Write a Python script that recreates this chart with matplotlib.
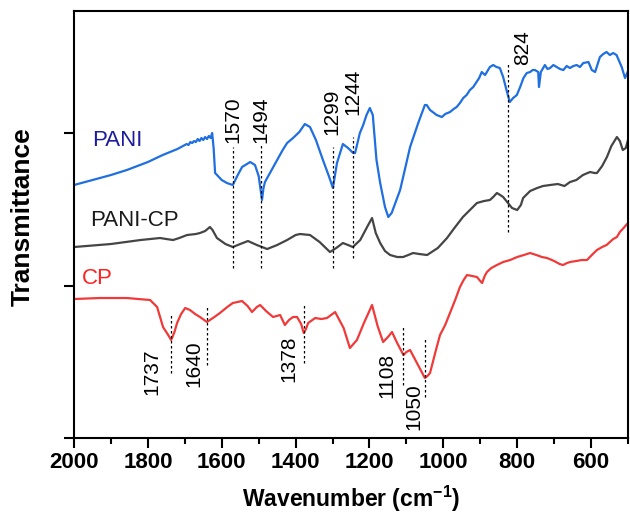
import matplotlib
matplotlib.use('Agg')
import matplotlib.pyplot as plt

plt.rcParams['font.family'] = ['Liberation Sans', 'DejaVu Sans']
plt.rcParams['mathtext.fontset'] = 'custom'
plt.rcParams['mathtext.rm'] = 'Liberation Sans'
plt.rcParams['mathtext.bf'] = 'Liberation Sans:bold'

# FTIR spectra, transmittance in arbitrary units (stacked / offset)
pani_wn = [2000, 1950, 1900, 1857, 1800, 1760, 1740, 1720, 1710, 1705, 1700, 1695,
           1690, 1685, 1680, 1675, 1670, 1665, 1660, 1655, 1650, 1645, 1640, 1635,
           1630, 1626, 1622, 1618, 1600, 1586, 1570, 1558, 1545, 1523, 1510, 1500,
           1496, 1491, 1487, 1483, 1465, 1450, 1435, 1423, 1407, 1390, 1375, 1361,
           1345, 1326, 1310, 1299, 1288, 1272, 1258, 1244, 1239, 1226, 1217, 1208,
           1199, 1191, 1181, 1171, 1158, 1149, 1140, 1117, 1090, 1068, 1050, 1045,
           1036, 1018, 1004, 995, 982, 972, 964, 955, 946, 937, 928, 919, 910, 903,
           896, 887, 874, 865, 856, 847, 838, 829, 820, 811, 801, 792, 783, 774,
           765, 758, 752, 743, 741, 736, 725, 718, 711, 702, 693, 684, 675, 666,
           657, 648, 639, 630, 621, 607, 598, 589, 576, 567, 558, 549, 540, 531,
           517, 508, 501]
pani_t = [253, 258, 263, 268, 276, 283, 286, 289, 291, 292, 293, 294,
          293, 296, 295, 297, 296, 299, 297, 300, 298, 301, 299, 302,
          300, 305, 290, 265, 258, 255, 253, 262, 271, 276, 273, 262,
          251, 238, 250, 256, 268, 278, 288, 295, 300, 306, 314, 311,
          298, 278, 262, 250, 275, 294, 290, 285, 285, 305, 313, 323,
          330, 323, 278, 255, 231, 221, 225, 248, 291, 315, 333, 333,
          328, 323, 321, 324, 326, 329, 331, 335, 340, 343, 348, 351, 356, 360,
          366, 363, 371, 373, 371, 370, 361, 348, 336, 340, 343, 351, 360, 365,
          366, 368, 368, 366, 351, 366, 373, 369, 370, 373, 371, 369, 368, 372,
          370, 372, 373, 371, 375, 376, 368, 366, 381, 384, 386, 383, 385, 383,
          371, 360, 366]

pcp_wn = [2000, 1900, 1820, 1767, 1750, 1732, 1715, 1694, 1670, 1659, 1645, 1632,
          1625, 1613, 1590, 1570, 1550, 1529, 1505, 1477, 1450, 1423, 1400, 1388,
          1361, 1335, 1307, 1290, 1272, 1258, 1245, 1225, 1205, 1193, 1183, 1171,
          1158, 1144, 1125, 1109, 1095, 1082, 1065, 1044, 1015, 990, 970, 947,
          928, 909, 890, 874, 865, 855, 846, 838, 825, 814, 800, 790, 784, 765,
          746, 730, 711, 690, 672, 657, 640, 622, 603, 590, 584, 570, 557, 545,
          530, 522, 514, 506, 500]
pcp_t = [191, 194, 198, 200, 199, 198, 200, 203, 204, 205, 207, 211,
         208, 200, 194, 191, 194, 197, 193, 189, 193, 198, 203, 204,
         203, 196, 186, 190, 195, 193, 191, 198, 212, 220, 205, 195,
         187, 183, 181, 181, 183, 185, 184, 183, 190, 200, 210, 221,
         228, 235, 237, 238, 241, 245, 243, 241, 235, 230, 228, 233, 240, 247,
         250, 252, 253, 254, 252, 256, 258, 263, 266, 265, 265, 272, 281, 292,
         301, 297, 288, 290, 298]

cp_wn = [2000, 1930, 1857, 1794, 1775, 1759, 1745, 1737, 1728, 1721, 1710, 1699,
         1686, 1672, 1659, 1640, 1620, 1605, 1585, 1570, 1545, 1530, 1518, 1505,
         1496, 1480, 1461, 1442, 1429, 1418, 1407, 1396, 1385, 1378, 1372, 1366,
         1347, 1330, 1315, 1293, 1270, 1253, 1234, 1215, 1193, 1178, 1163, 1150,
         1139, 1125, 1108, 1100, 1090, 1070, 1050, 1043, 1036, 1020, 1009, 995,
         982, 968, 955, 945, 936, 922, 909, 900, 895, 888, 882, 870, 855, 838,
         819, 800, 782, 765, 748, 733, 719, 700, 685, 676, 665, 657, 640, 625,
         611, 598, 584, 570, 558, 549, 540, 530, 522, 512, 500]
cp_t = [139, 140, 140, 138, 131, 111, 103, 98, 106, 115, 124, 130,
        128, 124, 121, 116, 121, 125, 131, 135, 137, 132, 126, 131,
        133, 127, 121, 123, 113, 118, 121, 121, 114, 105, 109, 115,
        120, 119, 120, 126, 110, 90, 98, 115, 133, 112, 96, 101,
        106, 95, 83, 86, 88, 74, 60, 62, 65, 88, 103, 113,
        125, 138, 151, 158, 163, 162, 161, 157, 155, 162, 166, 170, 173, 176,
        178, 181, 183, 185, 183, 181, 180, 177, 174, 173, 175, 176, 177, 178,
        178, 183, 188, 191, 193, 196, 199, 201, 206, 210, 215]

# peak markers: wavenumber, dashed line range
top_peaks = [1570, 1494, 1299, 1244, 824]
top_lo = [170, 170, 170, 180, 206]
top_hi = [291, 295, 291, 301, 375]
top_lab_x = [1571, 1494, 1302, 1244, 784]
top_lab_y = [295, 295, 303, 323, 373]

cp_peaks = [1737, 1640, 1378, 1108, 1050]
cp_lo = [65, 73, 75, 53, 41]
cp_hi = [125, 133, 134, 113, 101]
cp_lab_x = [1789, 1675, 1418, 1153, 1079]
cp_lab_y = [90, 98, 103, 85, 55]

fig = plt.figure(figsize=(6.3, 5.15), dpi=100)
ax = fig.add_axes([0.1175, 0.1495, 0.8793, 0.8291])

ax.plot(pani_wn, pani_t, color='#1f6fe0', lw=1.6)
ax.plot(pcp_wn, pcp_t, color='#454545', lw=1.6)
ax.plot(cp_wn, cp_t, color='#f03a3a', lw=1.6)

for wn, lo, hi in zip(top_peaks + cp_peaks, top_lo + cp_lo, top_hi + cp_hi):
    ax.plot([wn, wn], [lo, hi], color='black', lw=0.9, ls=(0, (2, 2)))

for lab, x, y in zip(top_peaks, top_lab_x, top_lab_y):
    ax.text(x, y, str(lab), rotation=90, ha='center', va='bottom', fontsize=15)
for lab, x, y in zip(cp_peaks, cp_lab_x, cp_lab_y):
    ax.text(x, y, str(lab), rotation=90, ha='center', va='top', fontsize=15)

ax.text(1951, 298, 'PANI', color='#1c1c9c', fontsize=16, va='center')
ax.text(1957, 218, 'PANI-CP', color='#1a1a1a', fontsize=16, va='center')
ax.text(1978, 160, 'CP', color='#ff2020', fontsize=16, va='center')

ax.set_xlim(2000, 500)
ax.set_ylim(0, 427)
ax.set_xticks([2000, 1800, 1600, 1400, 1200, 1000, 800, 600])
ax.set_xticks([1900, 1700, 1500, 1300, 1100, 900, 700, 500], minor=True)
ax.set_yticks([0, 152.5, 305])
ax.set_yticklabels([])
ax.tick_params(axis='both', which='major', direction='out', length=7, width=1.5)
ax.tick_params(axis='x', which='minor', direction='out', length=4, width=1.5)
ax.tick_params(axis='x', labelsize=16, pad=3)
for lab in ax.get_xticklabels():
    lab.set_fontweight('bold')
for sp in ax.spines.values():
    sp.set_linewidth(1.5)

ax.set_xlabel('Wavenumber (cm$^{\\mathbf{-1}}$)', fontsize=16.5, fontweight='bold', labelpad=8)
fig.text(23 / 630, 1 - 217 / 515, 'Transmittance', rotation=90, ha='center', va='center',
         fontsize=19, fontweight='bold')

fig.savefig('out.png', dpi=100)
